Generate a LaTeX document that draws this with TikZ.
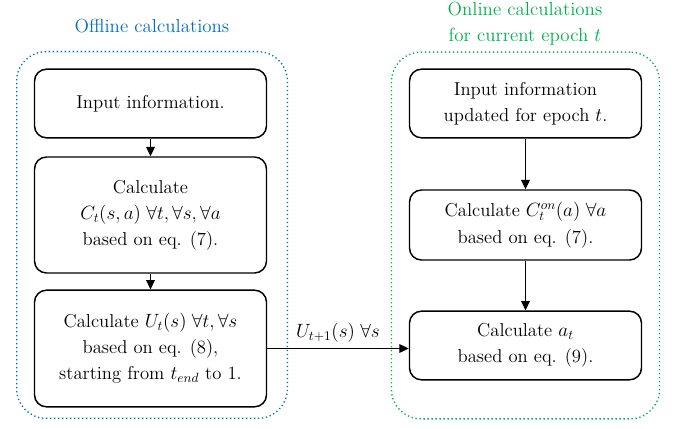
\documentclass[tikz,border=0pt]{standalone}
\usepackage{amsmath,amssymb}
\usetikzlibrary{arrows.meta, positioning}

\definecolor{offblue}{RGB}{0,112,192}
\definecolor{ongreen}{RGB}{0,176,80}

\begin{document}
\begin{tikzpicture}[x=0.75pt, y=-0.75pt,
  stepbox/.style={rectangle, draw, line width=1.1pt, rounded corners=9pt,
                  minimum width=174pt, align=center,
                  font=\fontsize{14}{19.5}\selectfont},
  group/.style={rectangle, draw, dotted, line width=1pt, rounded corners=22pt},
  title/.style={align=center, font=\fontsize{14.2}{19.5}\selectfont},
  flow/.style={-{Triangle[length=7pt, width=6.5pt]}, line width=0.8pt}
]
\useasboundingbox (0,0) rectangle (677,428);

% containers
\node[group, draw=offblue, minimum width=203pt, minimum height=275pt] (Off) at (152,235) {};
\node[group, draw=ongreen, minimum width=201pt, minimum height=275pt] (On) at (525.5,235.5) {};
\node[title, text=offblue] (OffT) at (152,26) {Offline calculations};
\node[title, text=ongreen] (OnT) at (525,24) {Online calculations\\for current epoch $t$};

% offline steps
\node[stepbox, minimum height=51.5pt] (In) at (150.5,103.5) {Input information.};
\node[stepbox, minimum height=87pt] (Cost) at (150.5,215)
  {Calculate\\$C_t(s,a)\;\forall t,\forall s,\forall a$\\based on eq. (7).};
\node[stepbox, minimum height=87.5pt] (Util) at (150.5,348.5)
  {Calculate $U_t(s)\;\forall t,\forall s$\\based on eq. (8),\\starting from $t_{end}$ to 1.};

% online steps
\node[stepbox, minimum height=51.5pt] (InOn) at (525.5,103.5)
  {Input information\\updated for epoch $t$.};
\node[stepbox, minimum height=52.5pt] (CostOn) at (525.5,225)
  {Calculate $C_t^{on}(a)\;\forall a$\\[1pt]based on eq. (7).};
\node[stepbox, minimum height=51.5pt] (Act) at (525.5,345.5)
  {Calculate $a_t$\\based on eq. (9).};

\draw[flow] (In) -- (Cost);
\draw[flow] (Cost) -- (Util);
\draw[flow] (InOn) -- (CostOn);
\draw[flow] (CostOn) -- (Act);
\draw[flow] (Util.east) -- (Util.east -| Act.west)
  node[midway, above=1pt, font=\fontsize{14}{19.5}\selectfont] {$U_{t+1}(s)\;\forall s$};
\end{tikzpicture}
\end{document}
